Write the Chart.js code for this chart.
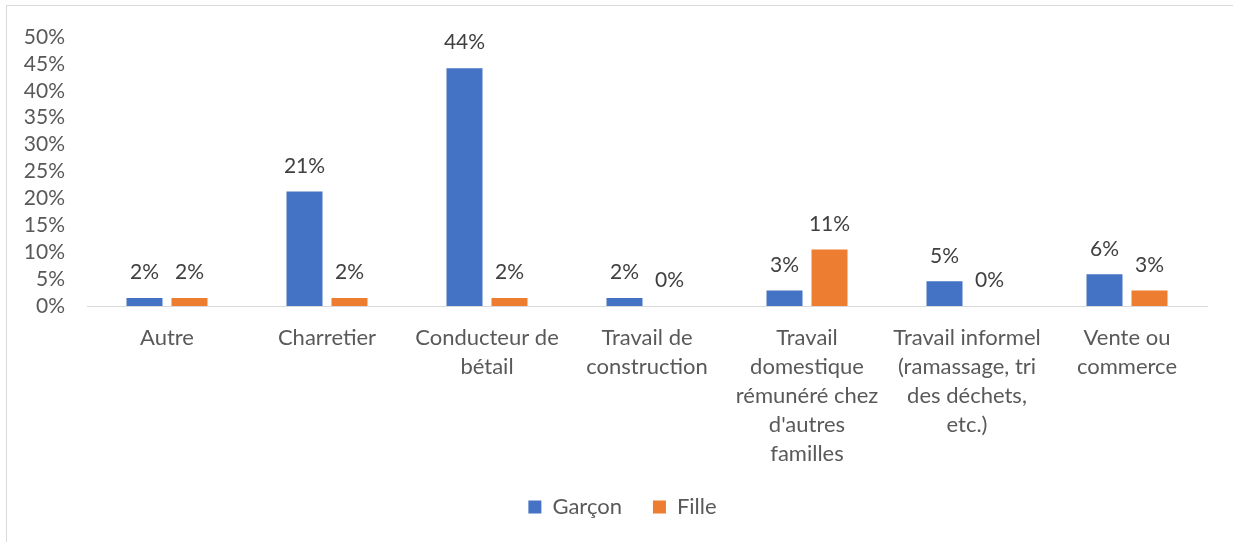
<!DOCTYPE html>
<html>
<head>
<meta charset="utf-8">
<script src="https://cdn.jsdelivr.net/npm/chart.js@4"></script>
<style>
    html, body { margin: 0; padding: 0; background: #ffffff; overflow: hidden; }
    #frame {
        position: absolute; left: 6px; top: 5px;
        width: 1260px; height: 580px;
        border: 1px solid #d9d9d9;
    }
    #wrap { position: absolute; left: 0; top: 0; width: 1233px; height: 542px; }
</style>
</head>
<body>
<div id="frame"></div>
<div id="wrap"><canvas id="chart"></canvas></div>
<script>
// Categories and values (percent)
const categories = [
    'Autre',
    'Charretier',
    ['Conducteur de', 'bétail'],
    ['Travail de', 'construction'],
    ['Travail', 'domestique', 'rémunéré chez', "d'autres", 'familles'],
    ['Travail informel', '(ramassage, tri', 'des déchets,', 'etc.)'],
    ['Vente ou', 'commerce']
];
const garconValues = [1.5, 21.3, 44.2, 1.5, 2.9, 4.6, 5.9];
const filleValues = [1.5, 1.5, 1.5, 0, 10.5, 0, 2.9];
const yTicks = [0, 5, 10, 15, 20, 25, 30, 35, 40, 45, 50];

const FONT = 'Lato';
const FONT_SIZE = 21;
const LABEL_SIZE = 22;

// Draw value labels above each bar
const valueLabels = {
    id: 'valueLabels',
    afterDatasetsDraw(chart) {
        const ctx = chart.ctx;
        ctx.save();
        ctx.font = FONT_SIZE + 'px ' + FONT;
        ctx.fillStyle = '#404040';
        ctx.textAlign = 'center';
        ctx.textBaseline = 'bottom';
        chart.data.datasets.forEach((ds, i) => {
            chart.getDatasetMeta(i).data.forEach((bar, j) => {
                ctx.fillText(Math.round(ds.data[j]) + '%', bar.x, bar.y - 15);
            });
        });
        ctx.restore();
    }
};

// Legend: fixed height and nudged right, like the original
const legendTweak = {
    id: 'legendTweak',
    afterInit(chart) {
        const lg = chart.legend;
        if (!lg) return;
        const origFit = lg.fit.bind(lg);
        lg.fit = function () {
            origFit();
            this.height = 66;
        };
    },
    afterLayout(chart) {
        const lg = chart.legend;
        if (!lg) return;
        lg.left += 19;
        lg.right += 19;
    }
};

new Chart(document.getElementById('chart'), {
    type: 'bar',
    data: {
        labels: categories,
        datasets: [
            { label: 'Garçon', data: garconValues, backgroundColor: '#4472C4' },
            { label: 'Fille', data: filleValues, backgroundColor: '#ED7D31' }
        ]
    },
    options: {
        responsive: true,
        maintainAspectRatio: false,
        animation: false,
        categoryPercentage: 0.5625,
        barPercentage: 0.8,
        layout: { padding: { top: 37, right: 26, bottom: 11, left: 0 } },
        plugins: {
            legend: {
                position: 'bottom',
                labels: {
                    boxWidth: 13,
                    boxHeight: 13,
                    padding: 31,
                    color: '#595959',
                    font: { family: FONT, size: LABEL_SIZE }
                }
            },
            tooltip: { enabled: false }
        },
        scales: {
            x: {
                grid: { display: false, drawTicks: false },
                border: { display: true, color: '#d9d9d9', width: 1 },
                ticks: {
                    color: '#595959',
                    padding: 17,
                    maxRotation: 0,
                    autoSkip: false,
                    font: { family: FONT, size: LABEL_SIZE, lineHeight: 1.327 }
                },
                afterFit(scale) { scale.height = 159; }
            },
            y: {
                min: 0,
                max: 50,
                afterBuildTicks(scale) {
                    scale.ticks = yTicks.map(v => ({ value: v }));
                },
                grid: { display: false, drawTicks: false },
                border: { display: false },
                ticks: {
                    color: '#595959',
                    padding: 22,
                    autoSkip: false,
                    font: { family: FONT, size: FONT_SIZE },
                    callback: v => v + '%'
                },
                afterFit(scale) { scale.width = 87; }
            }
        }
    },
    plugins: [valueLabels, legendTweak]
});
</script>
</body>
</html>
